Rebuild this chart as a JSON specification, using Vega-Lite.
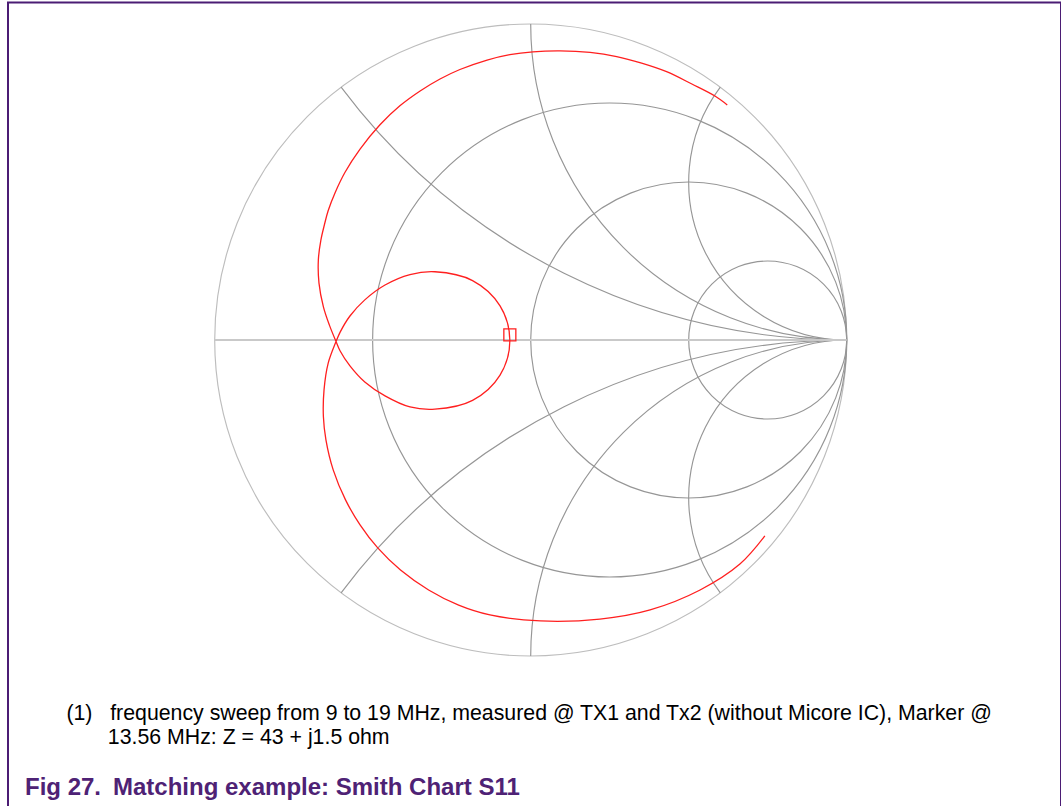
{
  "$schema": "https://vega.github.io/schema/vega-lite/v6.json",
  "width": 1053,
  "height": 830,
  "autosize": {"type": "none"},
  "padding": {"left": 8, "top": 2.5, "right": 0, "bottom": 0},
  "background": "white",
  "config": {"view": {"stroke": "#4b1c74", "strokeWidth": 2}},
  "title": {
    "text": [
      "\u200b\u00a0\u00a0\u00a0\u00a0\u00a0\u00a0\u00a0(1)\u00a0\u00a0\u00a0frequency sweep from 9 to 19 MHz, measured @ TX1 and Tx2 (without Micore IC), Marker @",
      "\u200b\u00a0\u00a0\u00a0\u00a0\u00a0\u00a0\u00a0\u00a0\u00a0\u00a0\u00a0\u00a0\u00a0\u00a013.56 MHz: Z = 43 + j1.5 ohm"
    ],
    "subtitle": "Fig 27.\u2002Matching example: Smith Chart S11",
    "orient": "bottom",
    "anchor": "start",
    "frame": "group",
    "offset": -130,
    "dx": 17,
    "font": "Liberation Sans",
    "fontSize": 21.3,
    "fontWeight": "normal",
    "color": "#000000",
    "lineHeight": 24.5,
    "subtitleFont": "Liberation Sans",
    "subtitleFontSize": 24,
    "subtitleFontWeight": "bold",
    "subtitleColor": "#4e2275",
    "subtitlePadding": 28
  },
  "encoding": {
    "x": {"field": "re", "type": "quantitative", "scale": {"domain": [-1.65411, 1.67816], "nice": false, "zero": false}, "axis": null},
    "y": {"field": "im", "type": "quantitative", "scale": {"domain": [-1.55854, 1.06804], "nice": false, "zero": false}, "axis": null}
  },
  "layer": [
    {
      "data": {"values": [
        {"kind": "outer", "re": 0, "im": 0, "rad": 1, "a0": 0, "a1": 360},
        {"kind": "grid", "re": 0.25, "im": 0, "rad": 0.75, "a0": 0, "a1": 360},
        {"kind": "grid", "re": 0.5, "im": 0, "rad": 0.5, "a0": 0, "a1": 360},
        {"kind": "grid", "re": 0.75, "im": 0, "rad": 0.25, "a0": 0, "a1": 360},
        {"kind": "grid", "re": 1, "im": 2, "rad": 2, "a0": 180, "a1": 233.13},
        {"kind": "grid", "re": 1, "im": 1, "rad": 1, "a0": 180, "a1": 270},
        {"kind": "grid", "re": 1, "im": 0.5, "rad": 0.5, "a0": 180, "a1": 306.87},
        {"kind": "grid", "re": 1, "im": -2, "rad": 2, "a0": 306.87, "a1": 360},
        {"kind": "grid", "re": 1, "im": -1, "rad": 1, "a0": 270, "a1": 360},
        {"kind": "grid", "re": 1, "im": -0.5, "rad": 0.5, "a0": 233.13, "a1": 360}
      ]},
      "mark": {"type": "arc", "filled": false, "strokeWidth": 1.15, "clip": true},
      "encoding": {
        "radius": {"field": "rad", "type": "quantitative", "scale": {"type": "linear", "domain": [0, 1], "range": [0, 316], "zero": true}},
        "radius2": {"field": "rad"},
        "theta": {"field": "a0", "type": "quantitative", "stack": null, "scale": {"type": "linear", "domain": [0, 360], "range": [0, 6.283185307179586]}},
        "theta2": {"field": "a1"},
        "stroke": {"field": "kind", "type": "nominal", "scale": {"domain": ["outer", "grid"], "range": ["#bdbdbd", "#969696"]}, "legend": null}
      }
    },
    {
      "data": {"values": [{"re": -1, "re2": 1, "im": 0}]},
      "mark": {"type": "rule", "color": "#c9c9c9", "strokeWidth": 2.2},
      "encoding": {"x2": {"field": "re2"}}
    },
    {
      "data": {"values": [
        {"i": 1, "re": 0.622, "im": 0.744},
        {"i": 2, "re": 0.583, "im": 0.772},
        {"i": 3, "re": 0.51, "im": 0.81},
        {"i": 4, "re": 0.43, "im": 0.849},
        {"i": 5, "re": 0.351, "im": 0.876},
        {"i": 6, "re": 0.272, "im": 0.897},
        {"i": 7, "re": 0.188, "im": 0.91},
        {"i": 8, "re": 0.093, "im": 0.915},
        {"i": 9, "re": 0.007, "im": 0.912},
        {"i": 10, "re": -0.066, "im": 0.903},
        {"i": 11, "re": -0.138, "im": 0.886},
        {"i": 12, "re": -0.224, "im": 0.856},
        {"i": 13, "re": -0.287, "im": 0.826},
        {"i": 14, "re": -0.35, "im": 0.788},
        {"i": 15, "re": -0.414, "im": 0.741},
        {"i": 16, "re": -0.477, "im": 0.681},
        {"i": 17, "re": -0.54, "im": 0.604},
        {"i": 18, "re": -0.588, "im": 0.53},
        {"i": 19, "re": -0.619, "im": 0.466},
        {"i": 20, "re": -0.641, "im": 0.409},
        {"i": 21, "re": -0.653, "im": 0.364},
        {"i": 22, "re": -0.664, "im": 0.316},
        {"i": 23, "re": -0.672, "im": 0.253},
        {"i": 24, "re": -0.67, "im": 0.18},
        {"i": 25, "re": -0.656, "im": 0.105},
        {"i": 26, "re": -0.637, "im": 0.047},
        {"i": 27, "re": -0.616, "im": -0.005},
        {"i": 28, "re": -0.603, "im": -0.035},
        {"i": 29, "re": -0.572, "im": -0.082},
        {"i": 30, "re": -0.525, "im": -0.133},
        {"i": 31, "re": -0.461, "im": -0.177},
        {"i": 32, "re": -0.382, "im": -0.212},
        {"i": 33, "re": -0.303, "im": -0.219},
        {"i": 34, "re": -0.184, "im": -0.191},
        {"i": 35, "re": -0.097, "im": -0.111},
        {"i": 36, "re": -0.066, "im": -0.002},
        {"i": 37, "re": -0.097, "im": 0.108},
        {"i": 38, "re": -0.184, "im": 0.188},
        {"i": 39, "re": -0.303, "im": 0.216},
        {"i": 40, "re": -0.382, "im": 0.207},
        {"i": 41, "re": -0.461, "im": 0.174},
        {"i": 42, "re": -0.525, "im": 0.127},
        {"i": 43, "re": -0.572, "im": 0.076},
        {"i": 44, "re": -0.603, "im": 0.025},
        {"i": 45, "re": -0.616, "im": -0.005},
        {"i": 46, "re": -0.641, "im": -0.074},
        {"i": 47, "re": -0.654, "im": -0.158},
        {"i": 48, "re": -0.656, "im": -0.243},
        {"i": 49, "re": -0.648, "im": -0.316},
        {"i": 50, "re": -0.625, "im": -0.411},
        {"i": 51, "re": -0.586, "im": -0.506},
        {"i": 52, "re": -0.54, "im": -0.585},
        {"i": 53, "re": -0.484, "im": -0.658},
        {"i": 54, "re": -0.412, "im": -0.728},
        {"i": 55, "re": -0.323, "im": -0.791},
        {"i": 56, "re": -0.228, "im": -0.839},
        {"i": 57, "re": -0.129, "im": -0.87},
        {"i": 58, "re": 0.031, "im": -0.889},
        {"i": 59, "re": 0.219, "im": -0.883},
        {"i": 60, "re": 0.378, "im": -0.854},
        {"i": 61, "re": 0.536, "im": -0.791},
        {"i": 62, "re": 0.662, "im": -0.709},
        {"i": 63, "re": 0.741, "im": -0.62}
      ]},
      "mark": {"type": "line", "color": "#ff1f1f", "strokeWidth": 1.3, "interpolate": "catmull-rom"},
      "encoding": {"order": {"field": "i", "type": "quantitative"}}
    },
    {
      "data": {"values": [{"re": -0.066, "im": 0.016}]},
      "mark": {"type": "point", "shape": "square", "size": 144, "filled": false, "color": "#ff1f1f", "strokeWidth": 1.3, "opacity": 1}
    }
  ]
}
